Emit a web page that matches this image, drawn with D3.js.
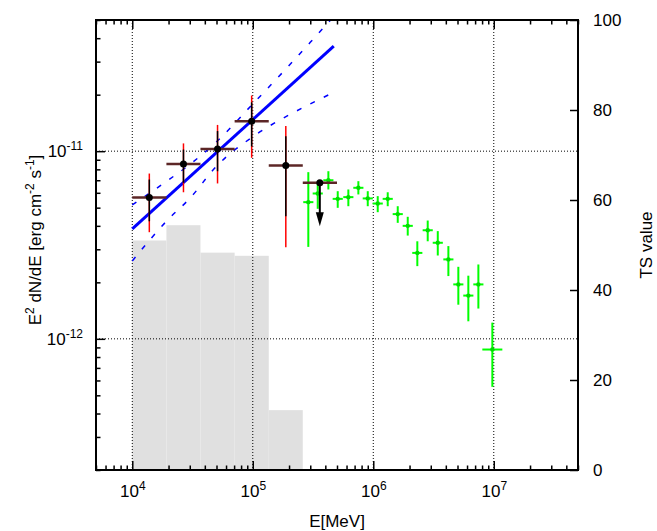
<!DOCTYPE html>
<html>
<head>
<meta charset="utf-8">
<script src="https://cdn.jsdelivr.net/npm/d3@7"></script>
<style>
  body { margin: 0; background: #fff; }
  text { font-family: "Liberation Sans", Arial, sans-serif; }
</style>
</head>
<body>
<svg id="chart" width="657" height="531"></svg>
<script>
'use strict';

// TS histogram (grey bars, right axis)
var binEdges = [1e4, 1.92e4, 3.68e4, 7.07e4, 1.357e5, 2.6e5, 5e5];
var tsValues = [51, 54.4, 48.3, 47.6, 13.3, 0];

// LAT points: flux, stat (black) and total (red) error ranges
var latE = [1.385e4, 2.66e4, 5.1e4, 9.79e4, 1.88e5];
var latF = [5.66e-12, 8.55e-12, 1.026e-11, 1.445e-11, 8.39e-12];
var latStatLo = [4.23e-12, 6.79e-12, 7.82e-12, 1.06e-11, 4.5e-12];
var latStatHi = [7.06e-12, 1.02e-11, 1.28e-11, 1.82e-11, 1.2e-11];
var latTotLo = [3.7e-12, 6.04e-12, 6.73e-12, 9.22e-12, 3.08e-12];
var latTotHi = [7.6e-12, 1.1e-11, 1.38e-11, 1.98e-11, 1.36e-11];

// upper limit in the last bin
var ulE = [3.6e5];
var ulF = [6.79e-12];
var ulTip = [3.98e-12];

// power law fit and its butterfly
var fitE = [1e4, 4.7e5];
var fitF = [3.85e-12, 3.63e-11];
var bandE = [1e4, 2e4, 3e4, 5e4, 1e5, 2e5, 3e5, 4.7e5];
var bandUp = [5.17e-12, 7.03e-12, 8.49e-12, 1.122e-11, 1.784e-11, 2.86e-11, 3.80e-11, 5.22e-11];
var bandLo = [2.60e-12, 4.35e-12, 5.60e-12, 8.31e-12, 1.193e-11, 1.56e-11, 1.784e-11, 2.06e-11];

// green spectrum points
var grnE = [2.89e5, 3.46e5, 4.24e5, 5.07e5, 6.21e5, 7.52e5, 9.0e5, 1.089e6, 1.318e6, 1.596e6,
            1.932e6, 2.32e6, 2.83e6, 3.43e6, 4.2e6, 5.08e6, 6.15e6, 7.45e6, 9.73e6];
var grnF = [5.35e-12, 5.95e-12, 7.0e-12, 5.57e-12, 5.69e-12, 6.38e-12, 5.60e-12, 5.26e-12, 5.57e-12, 4.62e-12,
            4.0e-12, 2.87e-12, 3.79e-12, 3.25e-12, 2.65e-12, 1.95e-12, 1.70e-12, 1.95e-12, 8.77e-13];
var grnHi = [7.73e-12, 6.79e-12, 7.82e-12, 6.12e-12, 6.25e-12, 6.92e-12, 6.12e-12, 5.76e-12, 6.04e-12, 5.09e-12,
             4.47e-12, 3.31e-12, 4.27e-12, 3.75e-12, 3.12e-12, 2.42e-12, 2.17e-12, 2.49e-12, 1.22e-12];
var grnLo = [3.09e-12, 4.93e-12, 6.25e-12, 4.99e-12, 5.09e-12, 5.88e-12, 5.09e-12, 4.73e-12, 5.09e-12, 4.15e-12,
             3.55e-12, 2.44e-12, 3.31e-12, 2.78e-12, 2.16e-12, 1.52e-12, 1.24e-12, 1.45e-12, 5.55e-13];
var grnDex = [0.042, 0.042, 0.042, 0.042, 0.042, 0.042, 0.042, 0.042, 0.042, 0.042,
              0.042, 0.042, 0.042, 0.042, 0.042, 0.042, 0.042, 0.042, 0.083];

var xMajor = [1e4, 1e5, 1e6, 1e7];
var yMajor = [1e-12, 1e-11];
var tsTicks = [0, 20, 40, 60, 80, 100];

(function () {
    var L = 96, R = 578, T = 20, B = 470;
    var svg = d3.select('#chart');

    var x = d3.scaleLog().domain([5e3, 5e7]).range([L, R]);
    var y = d3.scaleLog().domain([2e-13, 5e-11]).range([B, T]);
    var yTs = d3.scaleLinear().domain([0, 100]).range([B, T]);

    svg.append('clipPath').attr('id', 'plotclip')
      .append('rect').attr('x', L).attr('y', T).attr('width', R - L).attr('height', B - T);

    var minorX = [], minorY = [];
    for (var p = 3; p <= 7; p++) {
      for (var m = 2; m <= 9; m++) {
        var v = m * Math.pow(10, p);
        if (v >= 5e3 && v <= 5e7) minorX.push(v);
      }
    }
    for (var q = -13; q <= -11; q++) {
      for (var k = 2; k <= 9; k++) {
        var w = k * Math.pow(10, q);
        if (w >= 2e-13 && w <= 5e-11) minorY.push(w);
      }
    }

    // TS histogram
    svg.append('g').selectAll('rect').data(tsValues).enter().append('rect')
      .attr('x', function (d, i) { return x(binEdges[i]); })
      .attr('width', function (d, i) { return x(binEdges[i + 1]) - x(binEdges[i]); })
      .attr('y', function (d) { return yTs(d); })
      .attr('height', function (d) { return B - yTs(d); })
      .attr('fill', '#e0e0e0');

    // grid
    var grid = svg.append('g').attr('stroke', '#000').attr('stroke-width', 1)
      .attr('stroke-dasharray', '1,2');
    grid.selectAll('.gx').data(xMajor).enter().append('line')
      .attr('x1', function (d) { return x(d); }).attr('x2', function (d) { return x(d); })
      .attr('y1', T).attr('y2', B);
    grid.selectAll('.gy').data(yMajor).enter().append('line')
      .attr('y1', function (d) { return y(d); }).attr('y2', function (d) { return y(d); })
      .attr('x1', L).attr('x2', R);

    // fit + butterfly
    var fitG = svg.append('g').attr('clip-path', 'url(#plotclip)');
    var line = d3.line().x(function (d) { return x(d[0]); }).y(function (d) { return y(d[1]); });
    var curve = d3.line().curve(d3.curveMonotoneX)
      .x(function (d) { return x(d[0]); }).y(function (d) { return y(d[1]); });
    fitG.append('path').datum(bandE.map(function (e, i) { return [e, bandUp[i]]; }))
      .attr('d', curve)
      .attr('fill', 'none').attr('stroke', '#0000ff').attr('stroke-width', 1.5).attr('stroke-dasharray', '5,10');
    fitG.append('path').datum(bandE.map(function (e, i) { return [e, bandLo[i]]; }))
      .attr('d', curve)
      .attr('fill', 'none').attr('stroke', '#0000ff').attr('stroke-width', 1.5).attr('stroke-dasharray', '5,10');
    fitG.append('path').datum(fitE.map(function (e, i) { return [e, fitF[i]]; }))
      .attr('d', line).attr('fill', 'none').attr('stroke', '#0000ff').attr('stroke-width', 3);

    // green points
    var gG = svg.append('g').attr('stroke', '#00ff00').attr('stroke-width', 2);
    grnE.forEach(function (e, i) {
      var f = Math.pow(10, grnDex[i]);
      gG.append('line').attr('x1', x(e / f)).attr('x2', x(e * f))
        .attr('y1', y(grnF[i])).attr('y2', y(grnF[i]));
      gG.append('line').attr('x1', x(e)).attr('x2', x(e))
        .attr('y1', y(grnHi[i])).attr('y2', y(grnLo[i]));
      gG.append('circle').attr('cx', x(e)).attr('cy', y(grnF[i])).attr('r', 2.2)
        .attr('fill', '#00dd00').attr('stroke', 'none');
    });

    // LAT points
    var pG = svg.append('g');
    latE.forEach(function (e, i) {
      pG.append('line').attr('x1', x(binEdges[i])).attr('x2', x(binEdges[i + 1]))
        .attr('y1', y(latF[i])).attr('y2', y(latF[i]))
        .attr('stroke', '#5c2626').attr('stroke-width', 2.5);
      pG.append('line').attr('x1', x(e)).attr('x2', x(e))
        .attr('y1', y(latTotHi[i])).attr('y2', y(latTotLo[i]))
        .attr('stroke', '#ff0000').attr('stroke-width', 1.5);
      pG.append('line').attr('x1', x(e)).attr('x2', x(e))
        .attr('y1', y(latStatHi[i])).attr('y2', y(latStatLo[i]))
        .attr('stroke', '#000').attr('stroke-width', 1.5);
      pG.append('circle').attr('cx', x(e)).attr('cy', y(latF[i])).attr('r', 3.5).attr('fill', '#000');
    });

    // upper limit
    ulE.forEach(function (e, i) {
      var n = latE.length + i;
      var cx = x(e), tip = y(ulTip[i]);
      pG.append('line').attr('x1', x(binEdges[n])).attr('x2', x(binEdges[n + 1]))
        .attr('y1', y(ulF[i])).attr('y2', y(ulF[i]))
        .attr('stroke', '#5c2626').attr('stroke-width', 2.5);
      pG.append('line').attr('x1', cx).attr('x2', cx)
        .attr('y1', y(ulF[i])).attr('y2', tip - 10)
        .attr('stroke', '#000').attr('stroke-width', 2);
      pG.append('path').attr('d', 'M' + (cx - 4) + ',' + (tip - 14) + 'L' + (cx + 4) + ',' + (tip - 14) + 'L' + cx + ',' + tip + 'Z')
        .attr('fill', '#000');
      pG.append('circle').attr('cx', cx).attr('cy', y(ulF[i])).attr('r', 3.5).attr('fill', '#000');
    });

    // axes
    function powLabel(sel, size) {
      sel.text(null);
      sel.append('tspan').text('10');
      sel.append('tspan').attr('dy', '-0.6em').attr('font-size', size)
        .text(function (d) { return Math.round(Math.log10(d)); });
    }
    function styleAxis(g) {
      g.select('.domain').remove();
      g.selectAll('line').attr('stroke', '#000').attr('stroke-width', 1.5);
      g.selectAll('text').attr('font-size', 17).attr('fill', '#000')
        .attr('font-family', '"Liberation Sans", Arial, sans-serif');
    }

    svg.append('g').attr('transform', 'translate(0,' + B + ')')
      .call(d3.axisBottom(x).tickValues(minorX).tickSizeInner(-4.5).tickSizeOuter(0).tickFormat(''))
      .call(styleAxis);
    svg.append('g').attr('transform', 'translate(0,' + B + ')')
      .call(d3.axisBottom(x).tickValues(xMajor).tickSizeInner(-9).tickSizeOuter(0).tickPadding(15))
      .call(styleAxis)
      .call(function (g) { g.selectAll('.tick text').call(powLabel, 12); });
    svg.append('g').attr('transform', 'translate(0,' + T + ')')
      .call(d3.axisTop(x).tickValues(minorX).tickSizeInner(-4.5).tickSizeOuter(0).tickFormat(''))
      .call(styleAxis);
    svg.append('g').attr('transform', 'translate(0,' + T + ')')
      .call(d3.axisTop(x).tickValues(xMajor).tickSizeInner(-9).tickSizeOuter(0).tickFormat(''))
      .call(styleAxis);

    svg.append('g').attr('transform', 'translate(' + L + ',0)')
      .call(d3.axisLeft(y).tickValues(minorY).tickSizeInner(-4.5).tickSizeOuter(0).tickFormat(''))
      .call(styleAxis);
    svg.append('g').attr('transform', 'translate(' + L + ',0)')
      .call(d3.axisLeft(y).tickValues(yMajor).tickSizeInner(-9).tickSizeOuter(0).tickPadding(13))
      .call(styleAxis)
      .call(function (g) { g.selectAll('.tick text').call(powLabel, 12); });

    svg.append('g').attr('transform', 'translate(' + R + ',0)')
      .call(d3.axisRight(yTs).tickValues(tsTicks).tickSizeInner(-8).tickSizeOuter(0).tickPadding(15))
      .call(styleAxis);

    // frame
    svg.append('rect').attr('x', L).attr('y', T).attr('width', R - L).attr('height', B - T)
      .attr('fill', 'none').attr('stroke', '#000').attr('stroke-width', 2);

    // titles
    svg.append('text').attr('x', (L + R) / 2).attr('y', 527).attr('text-anchor', 'middle')
      .attr('font-size', 17).text('E[MeV]');

    svg.append('text').attr('transform', 'translate(652,' + ((T + B) / 2) + ') rotate(-90)')
      .attr('text-anchor', 'middle').attr('font-size', 17).text('TS value');

    var yl = svg.append('text').attr('transform', 'translate(41,' + ((T + B) / 2 - 5) + ') rotate(-90)')
      .attr('text-anchor', 'middle').attr('font-size', 17);
    yl.append('tspan').text('E');
    yl.append('tspan').attr('dy', -7).attr('font-size', 12).text('2');
    yl.append('tspan').attr('dy', 7).text(' dN/dE [erg cm');
    yl.append('tspan').attr('dy', -7).attr('font-size', 12).text('-2');
    yl.append('tspan').attr('dy', 7).text(' s');
    yl.append('tspan').attr('dy', -7).attr('font-size', 12).text('-1');
    yl.append('tspan').attr('dy', 7).text(']');
})();
</script>
</body>
</html>
